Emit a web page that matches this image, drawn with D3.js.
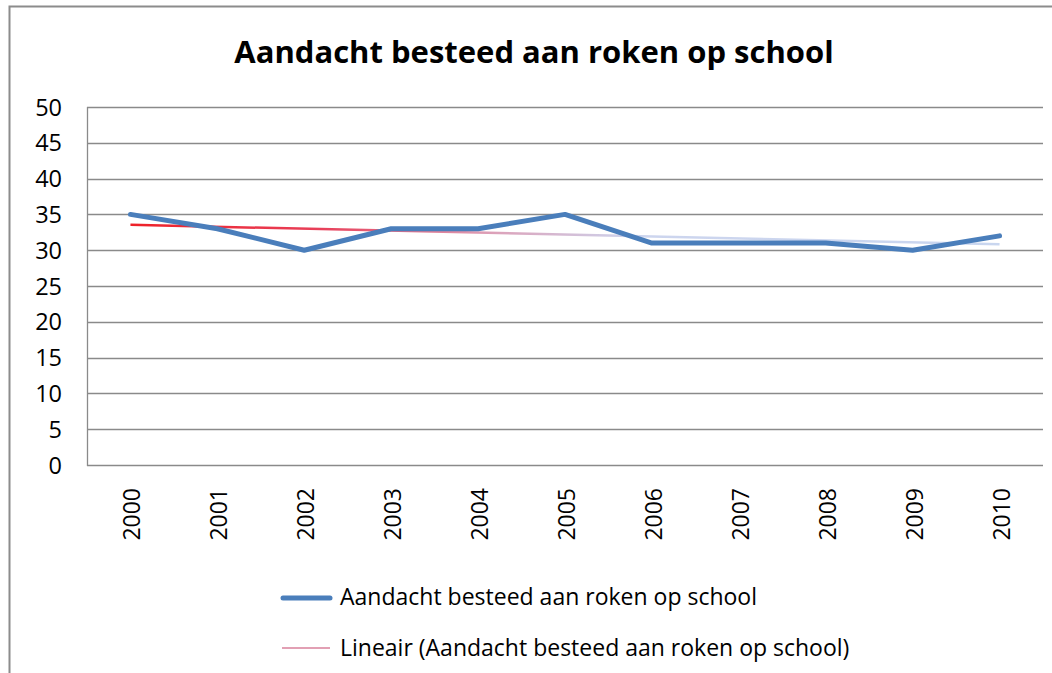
<!DOCTYPE html>
<html>
<head>
<meta charset="utf-8">
<script src="https://cdn.jsdelivr.net/npm/d3@7"></script>
<style>
body { margin: 0; background: #fff; }
svg { display: block; font-family: "Open Sans", "Liberation Sans", sans-serif; }
</style>
</head>
<body>
<svg width="1052" height="673"></svg>
<script>
var years = ["2000","2001","2002","2003","2004","2005","2006","2007","2008","2009","2010"];
var values = [35, 33, 30, 33, 33, 35, 31, 31, 31, 30, 32];
var yTicks = [0, 5, 10, 15, 20, 25, 30, 35, 40, 45, 50];
var title = "Aandacht besteed aan roken op school";
var seriesName = "Aandacht besteed aan roken op school";
var trendName = "Lineair (Aandacht besteed aan roken op school)";

var svg = d3.select("svg"),
  width = +svg.attr("width"),
  height = +svg.attr("height");

// chart frame (only left and top edges visible in the crop)
svg.append("rect")
  .attr("x", 9.5).attr("y", 6.5)
  .attr("width", 1100).attr("height", 700)
  .attr("fill", "none").attr("stroke", "#8c8c8c").attr("stroke-width", 2);

svg.append("text")
  .attr("x", 534).attr("y", 63)
  .attr("text-anchor", "middle")
  .attr("font-size", "31px").attr("font-weight", "bold")
  .text(title);

var pLeft = 87, pRight = 1043, pTop = 107, pBottom = 465;

var x = d3.scaleBand().domain(years).range([pLeft, pRight]);
var y = d3.scaleLinear().domain([0, 50]).range([pBottom, pTop]);
var cx = d => x(d) + x.bandwidth() / 2;

// gridlines
svg.append("g").selectAll("line")
  .data(yTicks)
  .enter().append("line")
    .attr("x1", pLeft).attr("x2", pRight)
    .attr("y1", d => Math.round(y(d)) + 0.5).attr("y2", d => Math.round(y(d)) + 0.5)
    .attr("stroke", "#8a8a8a").attr("stroke-width", 1.3);

svg.append("line")
  .attr("x1", pLeft + 0.5).attr("x2", pLeft + 0.5)
  .attr("y1", pTop).attr("y2", pBottom + 1)
  .attr("stroke", "#8a8a8a").attr("stroke-width", 1.3);

// y axis labels
svg.append("g").selectAll("text")
  .data(yTicks)
  .enter().append("text")
    .attr("x", 62).attr("y", d => y(d) + 8.5)
    .attr("text-anchor", "end")
    .attr("font-size", "23.5px").attr("fill", "#000")
    .text(d => d);

// x axis labels, rotated
svg.append("g").selectAll("text")
  .data(years)
  .enter().append("text")
    .attr("transform", d => "translate(" + (cx(d) + 10) + ",488) rotate(-90)")
    .attr("text-anchor", "end")
    .attr("font-size", "23px").attr("fill", "#000")
    .text(d => d);

// linear trend (least squares, like the spreadsheet trendline)
var n = values.length;
var mx = d3.mean(values, (v, i) => i), my = d3.mean(values);
var sxy = d3.sum(values, (v, i) => (i - mx) * (v - my));
var sxx = d3.sum(values, (v, i) => (i - mx) * (i - mx));
var slope = sxy / sxx, icpt = my - slope * mx;

var defs = svg.append("defs");
var grad = defs.append("linearGradient").attr("id", "trendGrad")
  .attr("gradientUnits", "userSpaceOnUse")
  .attr("x1", cx(years[0])).attr("x2", cx(years[n - 1]))
  .attr("y1", 0).attr("y2", 0);
grad.append("stop").attr("offset", "0%").attr("stop-color", "#ee2128");
grad.append("stop").attr("offset", "22%").attr("stop-color", "#e8405a");
grad.append("stop").attr("offset", "42%").attr("stop-color", "#dca2ba");
grad.append("stop").attr("offset", "58%").attr("stop-color", "#cdd5ee");
grad.append("stop").attr("offset", "100%").attr("stop-color", "#c9d6ef");

svg.append("path")
  .datum([0, n - 1])
  .attr("d", d3.line().x(i => cx(years[i])).y(i => y(icpt + slope * i)))
  .attr("fill", "none").attr("stroke", "url(#trendGrad)").attr("stroke-width", 2.5);

// data line
svg.append("path")
  .datum(values)
  .attr("d", d3.line().x((v, i) => cx(years[i])).y(v => y(v)))
  .attr("fill", "none").attr("stroke", "#4a7ebb").attr("stroke-width", 5)
  .attr("stroke-linejoin", "round").attr("stroke-linecap", "round");

// legend
var legend = svg.append("g");
legend.append("line")
  .attr("x1", 283).attr("x2", 330).attr("y1", 598).attr("y2", 598)
  .attr("stroke", "#4a7ebb").attr("stroke-width", 5).attr("stroke-linecap", "round");
legend.append("text")
  .attr("x", 340).attr("y", 605)
  .attr("font-size", "23px").text(seriesName);
legend.append("line")
  .attr("x1", 282).attr("x2", 330).attr("y1", 648).attr("y2", 648)
  .attr("stroke", "#e2a0b4").attr("stroke-width", 2);
legend.append("text")
  .attr("x", 340).attr("y", 656)
  .attr("font-size", "23px").text(trendName);
</script>
</body>
</html>
